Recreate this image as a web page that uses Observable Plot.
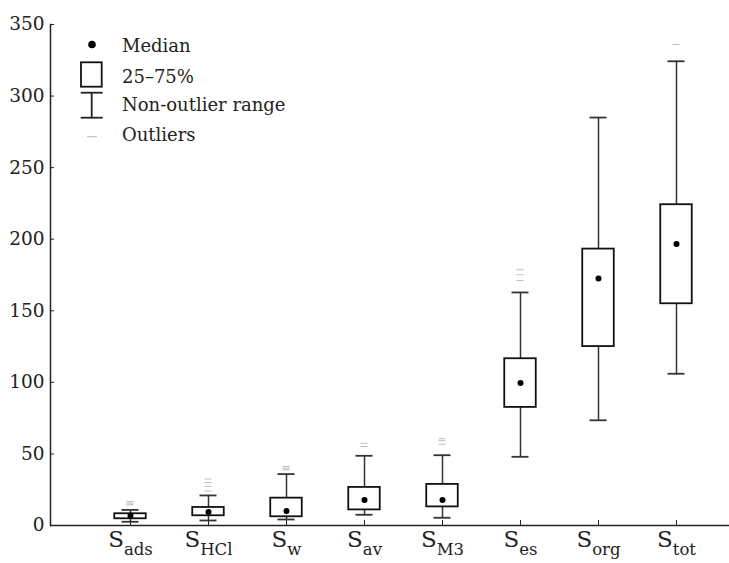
<!DOCTYPE html>
<html><head><meta charset="utf-8">
<script src="https://cdn.jsdelivr.net/npm/d3@7"></script>
<script src="https://cdn.jsdelivr.net/npm/@observablehq/plot@0.6"></script>
<style>
body{margin:0;background:#fff;}
#wrap{position:relative;width:729px;height:563px;}
#legend{position:absolute;left:0;top:0;}
svg text{font-family:"DejaVu Serif","Liberation Serif","Noto Serif",Georgia,serif !important;}
</style></head><body><div id="wrap"></div>
<script>
const categories = ["ads","HCl","w","av","M3","es","org","tot"];
const medians = [6.8, 9.5, 10.2, 17.9, 17.9, 99.5, 172.6, 196.6];
const q1 = [4.7, 6.8, 6.1, 10.9, 13.0, 82.5, 125.0, 154.9];
const q3 = [8.2, 12.6, 19.1, 26.6, 28.7, 116.5, 193.1, 224.1];
const whiskerLow = [2.6, 3.5, 4.2, 7.5, 5.4, 48.0, 73.5, 106.0];
const whiskerHigh = [10.9, 21.0, 35.9, 48.7, 49.1, 162.8, 285.0, 324.3];
const outliers = [[14.5,15.6,16.8],[24.2,27.3,30.0,32.4],[38.9,40.0,41.2],[55.2,57.5],[56.8,59.2,60.6],[171.2,175.2,178.7],[],[336.0]];
const yTicks = [0,50,100,150,200,250,300,350];
const legendLabels = ["Median","25–75%","Non-outlier range","Outliers"];

const rows = categories.map((c,i)=>({cat:c, med:medians[i], q1:q1[i], q3:q3[i], lo:whiskerLow[i], hi:whiskerHigh[i]}));
const outRows = categories.flatMap((c,i)=>outliers[i].map(v=>({cat:c, v})));

const ink = "#222";
const serif = '"DejaVu Serif", "Liberation Serif", serif';
const plot = Plot.plot({
  width: 729, height: 563,
  marginLeft: 50, marginRight: 0, marginTop: 24, marginBottom: 38,
  style: {fontFamily: serif, fontSize: "18px", color: ink, background: "#fff"},
  x: {domain: categories, padding: 0, insetLeft: 40.5, insetRight: 14.5, label: null},
  y: {domain: [0, 350], ticks: yTicks, label: null},
  marks: [
    Plot.ruleX(rows, {x: "cat", y1: "lo", y2: "q1", stroke: "#333", strokeWidth: 1.5}),
    Plot.ruleX(rows, {x: "cat", y1: "q3", y2: "hi", stroke: "#333", strokeWidth: 1.5}),
    Plot.tickY(rows, {x: "cat", y: "hi", inset: 30.5, stroke: "#333", strokeWidth: 1.8}),
    Plot.tickY(rows, {x: "cat", y: "lo", inset: 30.5, stroke: "#333", strokeWidth: 1.8}),
    Plot.barY(rows, {x: "cat", y1: "q1", y2: "q3", fill: "white", stroke: "#111", strokeWidth: 1.8, insetLeft: 23.25, insetRight: 23.25}),
    Plot.dot(rows, {x: "cat", y: "med", r: 3, fill: "#000", stroke: "none"}),
    Plot.tickY(outRows, {x: "cat", y: "v", inset: 35.5, stroke: "#bbb", strokeWidth: 1}),
    Plot.axisY({ticks: yTicks, tickSize: -4, tickPadding: 10, fontSize: 18.5, stroke: ink}),
    Plot.axisX({tickSize: -5, tickPadding: 10, fontSize: 23, stroke: ink}),
    Plot.ruleY([0], {stroke: ink, strokeWidth: 1.5}),
    Plot.frame({anchor: "left", stroke: ink, strokeWidth: 1.5})
  ]
});

// subscripted category labels
d3.select(plot).selectAll('g[aria-label="x-axis tick label"] text').each(function(){
  const key = this.textContent;
  const t = d3.select(this);
  t.text(null).attr("font-size", 23).attr("fill", ink);
  t.append("tspan").text("S");
  t.append("tspan").attr("font-size", 16.5).attr("dy", "8.4").text(key);
});
d3.select(plot).selectAll('g[aria-label="y-axis tick label"] text').attr("fill", ink);

const wrap = document.getElementById("wrap");
wrap.appendChild(plot);

// legend overlay
const lg = d3.select(wrap).append("svg").attr("id","legend").attr("width",320).attr("height",160)
  .attr("font-family", serif).attr("font-size", 18);
lg.append("circle").attr("cx",92).attr("cy",44.5).attr("r",3.8).attr("fill","#000");
lg.append("rect").attr("x",81).attr("y",62.3).attr("width",20.7).attr("height",24.4).attr("fill","none").attr("stroke","#111").attr("stroke-width",1.8);
lg.append("line").attr("x1",91.7).attr("x2",91.7).attr("y1",92.7).attr("y2",117.7).attr("stroke",ink).attr("stroke-width",1.8);
lg.append("line").attr("x1",80.7).attr("x2",102.7).attr("y1",92.7).attr("y2",92.7).attr("stroke",ink).attr("stroke-width",1.8);
lg.append("line").attr("x1",80.7).attr("x2",102.7).attr("y1",117.7).attr("y2",117.7).attr("stroke",ink).attr("stroke-width",1.8);
lg.append("line").attr("x1",87).attr("x2",97).attr("y1",136.7).attr("y2",136.7).attr("stroke","#bbb").attr("stroke-width",1);
const baselines = [51.8, 82.5, 111, 141.2];
legendLabels.forEach((s,i)=>lg.append("text").attr("x",122).attr("y",baselines[i]).attr("fill",ink).text(s));
</script></body></html>
